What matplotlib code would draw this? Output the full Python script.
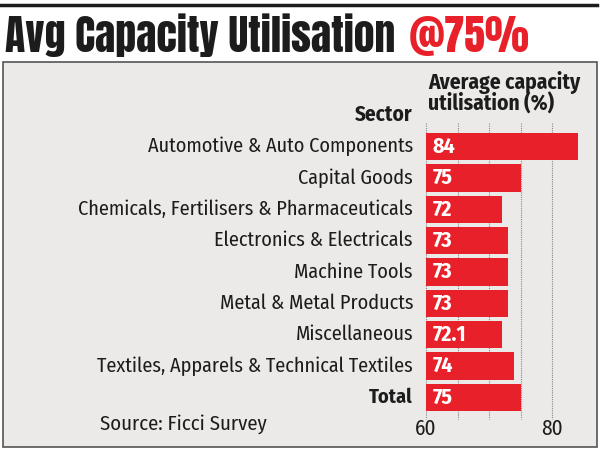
import matplotlib.pyplot as plt
from matplotlib.patches import Rectangle
from matplotlib.lines import Line2D
from matplotlib import font_manager

sectors = ['Automotive & Auto Components', 'Capital Goods',
           'Chemicals, Fertilisers & Pharmaceuticals', 'Electronics & Electricals',
           'Machine Tools', 'Metal & Metal Products', 'Miscellaneous',
           'Textiles, Apparels & Technical Textiles', 'Total']
values = [84, 75, 72, 73, 73, 73, 72.1, 74, 75]
value_labels = ['84', '75', '72', '73', '73', '73', '72.1', '74', '75']

red = '#e8202a'
bg = '#ebeae8'
ink = '#1c1c1c'
W, H = 600, 450

names = {f.name for f in font_manager.fontManager.ttflist}
def pick(cands):
    for c in cands:
        if c in names:
            return c
    return 'DejaVu Sans'

title_font = pick(['Anton', 'Oswald', 'Fjalla One', 'Roboto Condensed', 'Lato'])
lab_font = pick(['Fira Sans Condensed', 'Roboto Condensed', 'PT Sans Narrow', 'Open Sans', 'Lato'])

fig = plt.figure(figsize=(6, 4.5), dpi=100)
fig.patch.set_facecolor('white')
r = fig.canvas.get_renderer()

def fit(t, width_px):
    # scale font size so the text spans the wanted width
    w = t.get_window_extent(renderer=r).width
    t.set_fontsize(t.get_fontsize() * width_px / w)

# top black rule
fig.add_artist(Line2D([0, 597 / W], [1 - 5 / H, 1 - 5 / H], color=ink, lw=2.5))
# panel
fig.add_artist(Rectangle((3 / W, 3 / H), 594 / W, (447 - 62) / H, facecolor=bg,
                         edgecolor='#555555', lw=1.2, zorder=-5))

tw = 'bold' if title_font != 'Anton' else 'normal'
t1 = fig.text(5 / W, 1 - 52 / H, 'Avg Capacity Utilisation', fontsize=30, fontweight=tw,
              color=ink, va='baseline', family=title_font)
fit(t1, 390)
t2 = fig.text(409 / W, 1 - 52 / H, '@75%', fontsize=t1.get_fontsize(), fontweight=tw,
              color=red, va='baseline', family=title_font)
fit(t2, 121)

# axes for the bars
top_px, bot_px = 131, 413
ax = fig.add_axes([426 / W, 1 - bot_px / H, (584 - 426) / W, (bot_px - top_px) / H])
ax.set_facecolor('none')
y = list(range(len(sectors)))
ax.barh(y, [v - 60 for v in values], left=60, height=0.88, color=red, zorder=3)
ax.set_xlim(60, 85)
ax.set_ylim(len(sectors) - 0.5, -0.5)
for xv in [60, 65, 70, 75, 80]:
    ax.plot([xv, xv], [-0.75, len(sectors) - 0.3], color='#888888', lw=0.8,
            ls=(0, (1, 1)), zorder=1, clip_on=False)
for sp in ax.spines.values():
    sp.set_visible(False)

probe = fig.text(0, 0, sectors[2], fontsize=12, family=lab_font)
fit(probe, 337)
lab_size = probe.get_fontsize()
probe.remove()

ax.set_xticks([60, 80])
ax.set_xticklabels(['60', '80'], fontsize=lab_size * 1.05, family=lab_font, color=ink)
ax.tick_params(axis='x', length=0, pad=4)
ax.set_yticks(y)
ax.set_yticklabels([])
ax.tick_params(axis='y', length=0)

for i, (s, lbl) in enumerate(zip(sectors, value_labels)):
    bold = s == 'Total'
    ax.text(-13 / 158, i, s, transform=ax.get_yaxis_transform(), ha='right', va='center',
            fontsize=lab_size, family=lab_font, fontweight='bold' if bold else 'normal',
            color=ink)
    ax.text(61, i, lbl, ha='left', va='center', fontsize=lab_size * 1.08, fontweight='bold',
            family=lab_font, color='white', zorder=4)

fig.text(413 / W, 1 - 115 / H, 'Sector', ha='right', va='center', fontsize=lab_size * 1.05,
         fontweight='bold', family=lab_font, color=ink)
h1 = fig.text(428 / W, 1 - 82 / H, 'Average capacity', ha='left', va='center',
              fontsize=12, fontweight='bold', family=lab_font, color=ink)
fit(h1, 152)
fig.text(428 / W, 1 - 104 / H, 'utilisation (%)', ha='left', va='center',
         fontsize=h1.get_fontsize(), fontweight='bold', family=lab_font, color=ink)
src = fig.text(100 / W, 1 - 424 / H, 'Source: Ficci Survey', ha='left', va='center',
               fontsize=12, family=lab_font, color=ink)
fit(src, 168)

fig.savefig('out.png', dpi=100, facecolor=fig.get_facecolor())
